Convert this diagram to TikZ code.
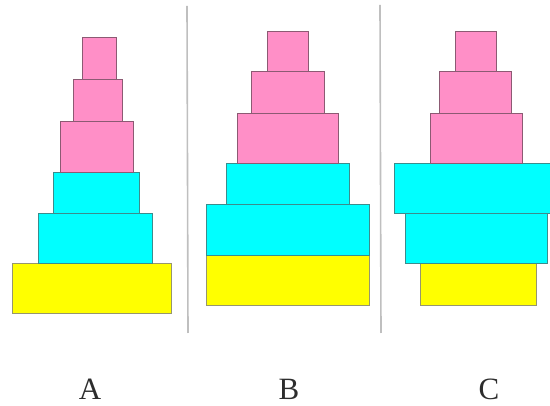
\documentclass[tikz,border=0pt]{standalone}
\usepackage{fontspec}
\setmainfont{Liberation Serif}
\usetikzlibrary{positioning}
\definecolor{ringpink}{RGB}{255,143,199}
\definecolor{ringcyan}{RGB}{0,255,255}
\definecolor{ringyellow}{RGB}{255,255,0}
\definecolor{edgepink}{RGB}{140,90,115}
\definecolor{edgecyan}{RGB}{60,140,140}
\definecolor{edgeyellow}{RGB}{150,150,110}
\definecolor{labelgray}{RGB}{45,45,45}
\begin{document}
\begin{tikzpicture}[x=1pt, y=-1pt]
% Define ring styles
\tikzstyle{ring} = [rectangle, inner sep=0pt, outer sep=0pt, line width=0.8pt]
\tikzstyle{pinkring} = [ring, fill=ringpink, draw=edgepink]
\tikzstyle{cyanring} = [ring, fill=ringcyan, draw=edgecyan]
\tikzstyle{yellowring} = [ring, fill=ringyellow, draw=edgeyellow]
\tikzstyle{divider} = [line width=1.6pt, draw=black!25]
\tikzstyle{tag} = [font=\fontsize{31}{36}\selectfont, text=labelgray]

\useasboundingbox (0,0) rectangle (550,406);

% Stack A
\node[yellowring, minimum width=159, minimum height=50] (A1) at (91.5,288) {};
\node[cyanring, minimum width=114, minimum height=50, above=0pt of A1, xshift=3.5pt] (A2) {};
\node[cyanring, minimum width=86, minimum height=41, above=0pt of A2, xshift=1pt] (A3) {};
\node[pinkring, minimum width=73, minimum height=51, above=0pt of A3, xshift=0.5pt] (A4) {};
\node[pinkring, minimum width=49, minimum height=42, above=0pt of A4, xshift=1pt] (A5) {};
\node[pinkring, minimum width=34, minimum height=42, above=0pt of A5, xshift=1.5pt] (A6) {};

% Stack B
\node[yellowring, minimum width=163, minimum height=50] (B1) at (287.5,280) {};
\node[cyanring, minimum width=163, minimum height=51, above=0pt of B1] (B2) {};
\node[cyanring, minimum width=123, minimum height=41, above=0pt of B2] (B3) {};
\node[pinkring, minimum width=101, minimum height=50, above=0pt of B3] (B4) {};
\node[pinkring, minimum width=73, minimum height=42, above=0pt of B4] (B5) {};
\node[pinkring, minimum width=41, minimum height=40, above=0pt of B5] (B6) {};

% Stack C
\node[yellowring, minimum width=116, minimum height=42] (C1) at (478,284) {};
\node[cyanring, minimum width=142, minimum height=50, above=0pt of C1, xshift=-2pt] (C2) {};
\node[cyanring, minimum width=156, minimum height=50, above=0pt of C2, xshift=-4pt] (C3) {};
\node[pinkring, minimum width=92, minimum height=50, above=0pt of C3, xshift=4pt] (C4) {};
\node[pinkring, minimum width=72, minimum height=42, above=0pt of C4, xshift=-1pt] (C5) {};
\node[pinkring, minimum width=41, minimum height=40, above=0pt of C5, xshift=0.5pt] (C6) {};

% Dividers
\coordinate (D1top) at (187,6);
\coordinate (D1bot) at (188,333);
\coordinate (D2top) at (380,5);
\coordinate (D2bot) at (381,333);
\draw[divider] (D1top) -- (D1bot);
\draw[divider] (D2top) -- (D2bot);

% Labels
\node[tag] (LA) at (90,389) {A};
\node[tag] (LB) at (289,389) {B};
\node[tag] (LC) at (489,389) {C};

\end{tikzpicture}
\end{document}
